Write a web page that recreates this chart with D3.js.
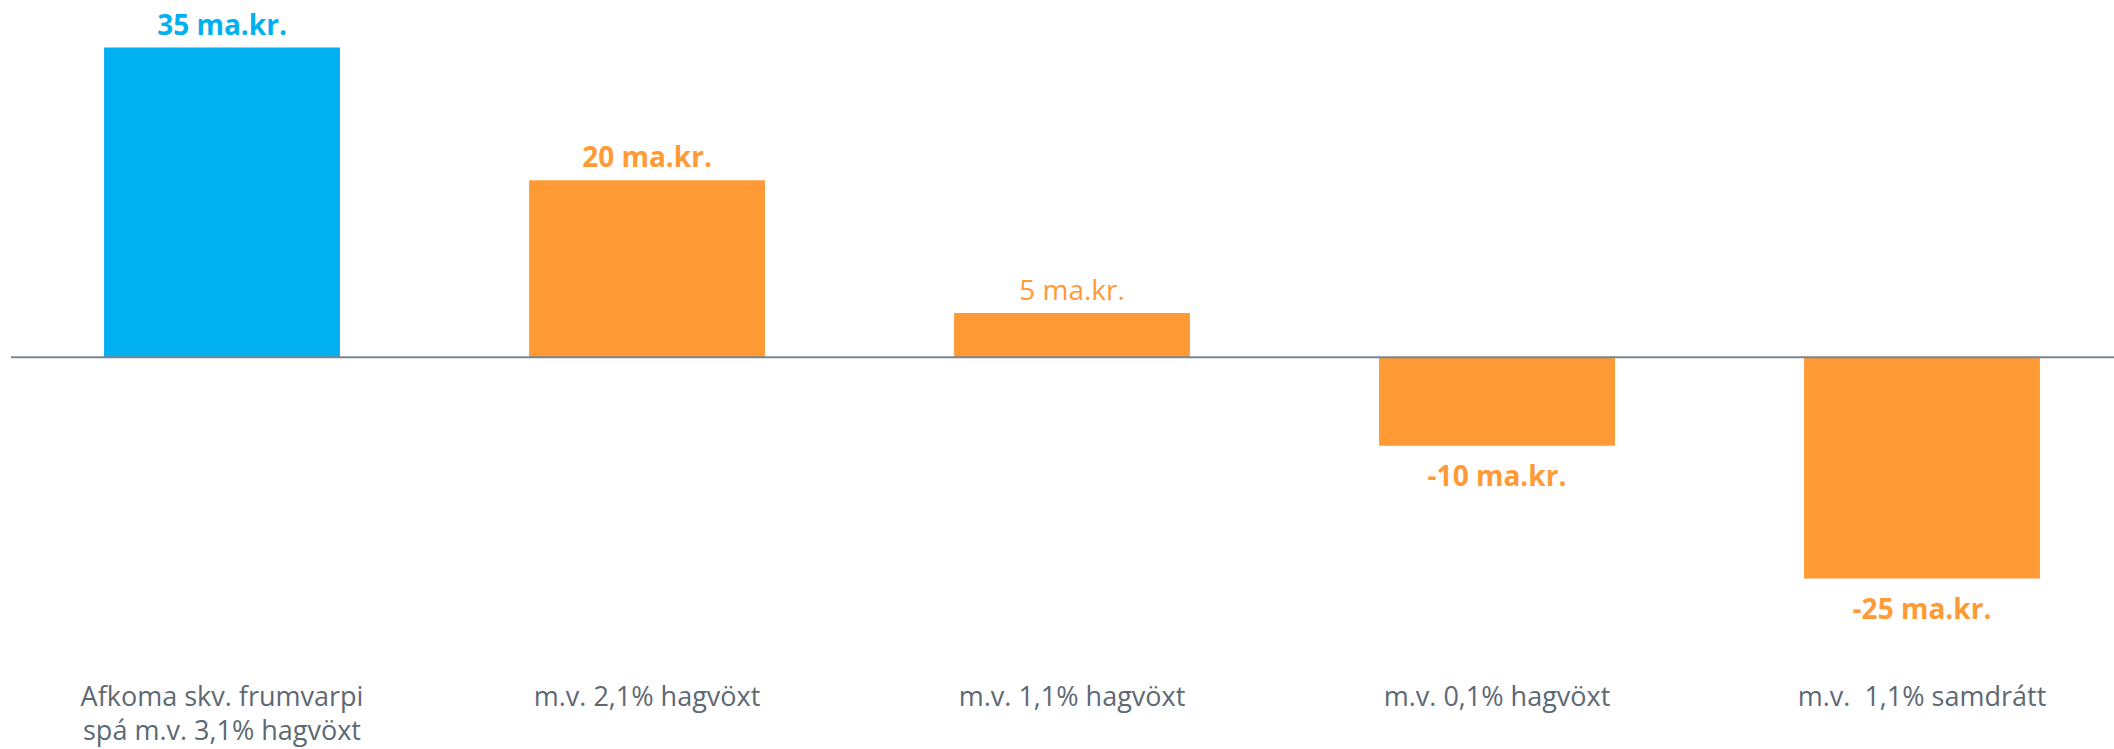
<!DOCTYPE html>
<html>
<head>
<meta charset="utf-8">
<script src="https://cdn.jsdelivr.net/npm/d3@7"></script>
<style>
  body { margin: 0; background: #fff; }
</style>
</head>
<body>
<div id="afkoma-chart"></div>
<script>
const categories = [
  ["Afkoma skv. frumvarpi", "spá m.v. 3,1% hagvöxt"],
  ["m.v. 2,1% hagvöxt"],
  ["m.v. 1,1% hagvöxt"],
  ["m.v. 0,1% hagvöxt"],
  ["m.v.  1,1% samdrátt"]
];
const values = [35, 20, 5, -10, -25];
const valueLabels = ["35 ma.kr.", "20 ma.kr.", "5 ma.kr.", "-10 ma.kr.", "-25 ma.kr."];
const boldLabel = [true, true, false, true, true];
const barColors = ["#00b0f0", "#ff9a35", "#ff9a35", "#ff9a35", "#ff9a35"];

const width = 2114, height = 749;

const svg = d3
  .select("#afkoma-chart")
  .append("svg")
  .attr("width", width)
  .attr("height", height);

// xScale
const xScale = d3
  .scaleBand()
  .domain(d3.range(values.length))
  .range([9.5, 2134.5])
  .paddingInner(0.445)
  .paddingOuter(0.2225);

// yScale: about 8.85px per ma.kr., zero at y=357
const yScale = d3.scaleLinear().domain([-25, 35]).range([578.5, 47.5]);

// bars
svg
  .selectAll(".bar")
  .data(values)
  .enter()
  .append("rect")
  .attr("class", "bar")
  .attr("x", (d, i) => xScale(i))
  .attr("width", xScale.bandwidth())
  .attr("y", (d) => yScale(Math.max(0, d)))
  .attr("height", (d) => Math.abs(yScale(d) - yScale(0)))
  .attr("fill", (d, i) => barColors[i]);

// zero line
svg
  .append("line")
  .attr("x1", 11)
  .attr("x2", width)
  .attr("y1", yScale(0))
  .attr("y2", yScale(0))
  .attr("stroke", "#7a8590")
  .attr("stroke-width", 2);

// value labels
svg
  .selectAll(".val")
  .data(values)
  .enter()
  .append("text")
  .attr("class", "val")
  .attr("x", (d, i) => xScale(i) + xScale.bandwidth() / 2)
  .attr("y", (d) => (d >= 0 ? yScale(d) - 13 : yScale(d) + 40))
  .attr("text-anchor", "middle")
  .attr("font-family", "'Open Sans', sans-serif")
  .attr("font-size", 28)
  .attr("font-weight", (d, i) => (boldLabel[i] ? 700 : 400))
  .attr("fill", (d, i) => barColors[i])
  .text((d, i) => valueLabels[i]);

// category labels
const cat = svg
  .selectAll(".cat")
  .data(categories)
  .enter()
  .append("text")
  .attr("class", "cat")
  .attr("x", (d, i) => xScale(i) + xScale.bandwidth() / 2)
  .attr("y", 706)
  .attr("text-anchor", "middle")
  .attr("font-family", "'Open Sans', sans-serif")
  .attr("font-size", 27)
  .attr("fill", "#5d6975")
  .attr("xml:space", "preserve");

cat
  .selectAll("tspan")
  .data((d) => d)
  .enter()
  .append("tspan")
  .attr("x", function () {
    return d3.select(this.parentNode).attr("x");
  })
  .attr("dy", (d, i) => (i === 0 ? 0 : 34))
  .text((d) => d);
</script>
</body>
</html>
